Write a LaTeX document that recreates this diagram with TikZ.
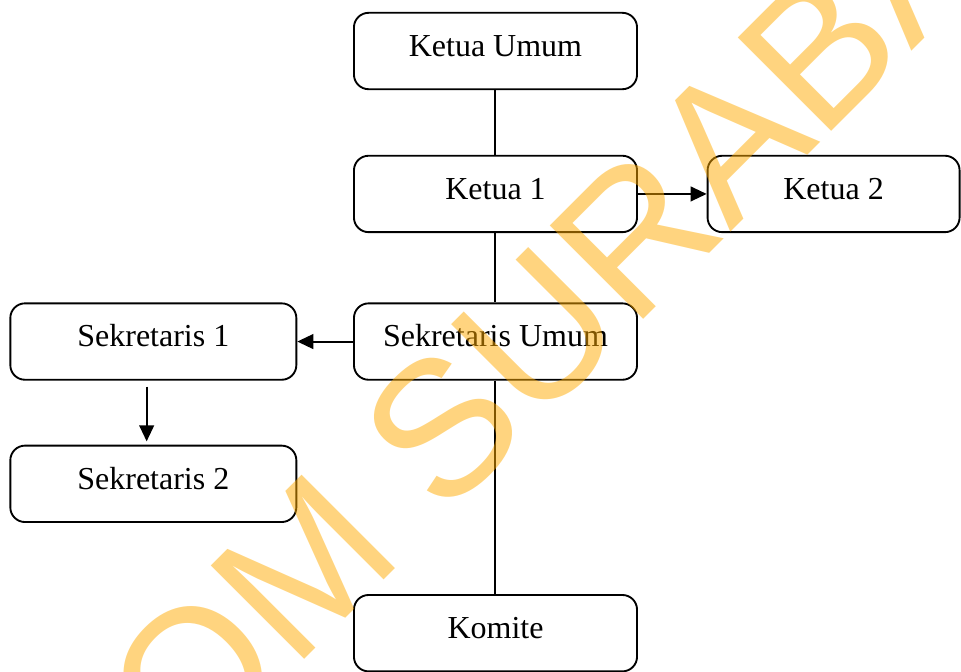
\documentclass[tikz,border=0pt]{standalone}
\usepackage{fontspec}
\setmainfont{Liberation Serif}
\newfontfamily\wmfont[Kerning=Off]{Liberation Sans}
\usetikzlibrary{arrows.meta, positioning}
\definecolor{wmorange}{HTML}{FFAA00}

\begin{document}
\begin{tikzpicture}[
  node distance=48.5pt,
  unit/.style={rectangle, rounded corners=11pt, draw, line width=1.4pt, minimum width=212.3pt, minimum height=57.3pt, inner sep=0pt, text height=17pt, text depth=9pt, font=\fontsize{24}{28}\selectfont},
  link/.style={line width=1.5pt},
  arrow/.style={-{Triangle[length=12pt, width=11pt]}, line width=1.5pt},
  stamp/.style={font=\wmfont\fontsize{144}{144}\selectfont, text=wmorange, text opacity=0.5, inner sep=0pt}
]
  \useasboundingbox (-371.6pt,38.25pt) rectangle (349.1pt,-465pt);

  \node[unit] (kumum) {Ketua Umum};
  \node[unit, below=of kumum] (ketua1) {Ketua 1};
  \node[unit, minimum width=189pt, right=51.5pt of ketua1] (ketua2) {Ketua 2};
  \node[unit, below=52pt of ketua1] (sekum) {Sekretaris Umum};
  \node[unit, minimum width=214.5pt, left=41.8pt of sekum] (sek1) {Sekretaris 1};
  \node[unit, minimum width=214.5pt, below=48pt of sek1] (sek2) {Sekretaris 2};
  \node[unit, below=160pt of sekum] (komite) {Komite};

  \draw[link] (kumum) -- (ketua1);
  \draw[link] (ketua1) -- (sekum);
  \draw[link] (sekum) -- (komite);
  \draw[arrow] (ketua1) -- (ketua2);
  \draw[arrow] (sekum) -- (sek1);
  \draw[arrow] ([xshift=-5pt, yshift=-4.5pt]sek1.south) -- ([xshift=-5pt, yshift=2.5pt]sek2.north);

  % watermark
  \begin{scope}
    \clip (-371.6pt,38.25pt) rectangle (349.1pt,-465pt);
    \node[stamp, rotate=45, anchor=base] (mark) at (29.2pt,-283.2pt) {STIKOM SURABAYA};
  \end{scope}
\end{tikzpicture}
\end{document}
